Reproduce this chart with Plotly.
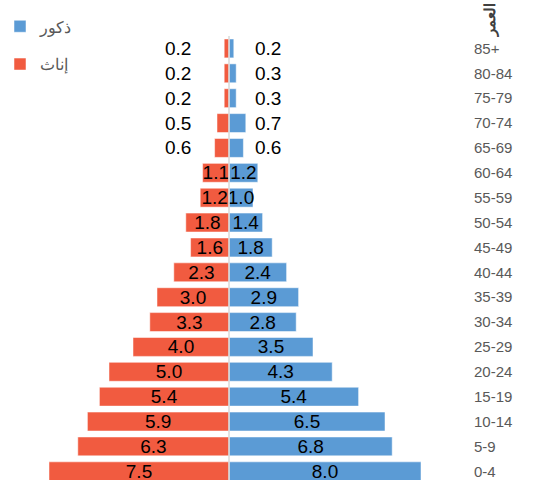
import plotly.graph_objects as go

age_groups = ["85+", "80-84", "75-79", "70-74", "65-69", "60-64", "55-59", "50-54",
              "45-49", "40-44", "35-39", "30-34", "25-29", "20-24", "15-19", "10-14",
              "5-9", "0-4"]
females = [0.2, 0.2, 0.2, 0.5, 0.6, 1.1, 1.2, 1.8, 1.6, 2.3, 3.0, 3.3, 4.0, 5.0, 5.4, 5.9, 6.3, 7.5]
males = [0.2, 0.3, 0.3, 0.7, 0.6, 1.2, 1.0, 1.4, 1.8, 2.4, 2.9, 2.8, 3.5, 4.3, 5.4, 6.5, 6.8, 8.0]

male_name = "ذكور"
female_name = "إناث"
axis_title = "العمر"

BLUE = "#5B9BD5"
RED = "#F15B40"
SMALL = 1.0  # values below this get their label outside the bar
FONT = "Liberation Sans, Arial"

# bottom-to-top order for the category axis
cats = age_groups[::-1]
f_vals = females[::-1]
m_vals = males[::-1]

def inside_text(vals):
    return [f"{v:.1f}" if v >= SMALL else "" for v in vals]

fig = go.Figure()
fig.add_trace(go.Bar(
    y=cats, x=m_vals, orientation="h", name=male_name,
    marker=dict(color=BLUE, line=dict(color="white", width=0.5)),
    text=inside_text(m_vals), textposition="inside", insidetextanchor="middle",
    constraintext="none", textfont=dict(color="black", size=19, family=FONT),
    legendgroup="m",
))
fig.add_trace(go.Bar(
    y=cats, x=[-v for v in f_vals], orientation="h", name=female_name,
    marker=dict(color=RED, line=dict(color="white", width=0.5)),
    text=inside_text(f_vals), textposition="inside", insidetextanchor="middle",
    constraintext="none", textfont=dict(color="black", size=19, family=FONT),
    legendgroup="f",
))

# outside labels for small values, aligned in columns
for c, fv, mv in zip(cats, f_vals, m_vals):
    if fv < SMALL:
        fig.add_annotation(x=-1.5, y=c, text=f"{fv:.1f}", xanchor="right", showarrow=False,
                           font=dict(color="black", size=19, family=FONT))
    if mv < SMALL:
        fig.add_annotation(x=1.0, y=c, text=f"{mv:.1f}", xanchor="left", showarrow=False,
                           font=dict(color="black", size=19, family=FONT))

fig.add_annotation(xref="paper", yref="paper", x=490 / 468, y=1 + 16 / 444,
                   xanchor="center", yanchor="middle",
                   text=f"<b>{axis_title}</b>", textangle=-90, showarrow=False,
                   font=dict(color="#404040", size=15, family=FONT))

fig.add_shape(type="line", xref="x", yref="paper", x0=0, x1=0, y0=0, y1=1.0,
              line=dict(color="#D9D9D9", width=1.5), layer="above")

fig.update_layout(
    width=546, height=480,
    margin=dict(l=0, r=78, t=36, b=0, autoexpand=False),
    barmode="relative", bargap=0.24,
    plot_bgcolor="white", paper_bgcolor="white",
    font=dict(family=FONT, color="#595959"),
    showlegend=True,
    legend=dict(xref="paper", yref="paper", x=0.0, y=1.06, xanchor="left", yanchor="top",
                font=dict(size=16, color="#595959"), tracegroupgap=14, itemwidth=30,
                traceorder="grouped", bgcolor="rgba(0,0,0,0)"),
    xaxis=dict(range=[-229 / 24, 239 / 24], showgrid=False, zeroline=False,
               showticklabels=False, fixedrange=True),
    yaxis=dict(side="right", range=[-0.35, 17.5], showgrid=False, zeroline=False,
               tickfont=dict(size=15, color="#595959"), ticks="", ticklabelstandoff=5,
               categoryorder="array", categoryarray=cats, fixedrange=True),
)

fig.write_html("out.html", config={"displayModeBar": False},
               post_script="document.body.style.margin='0';document.body.style.overflow='hidden';")
